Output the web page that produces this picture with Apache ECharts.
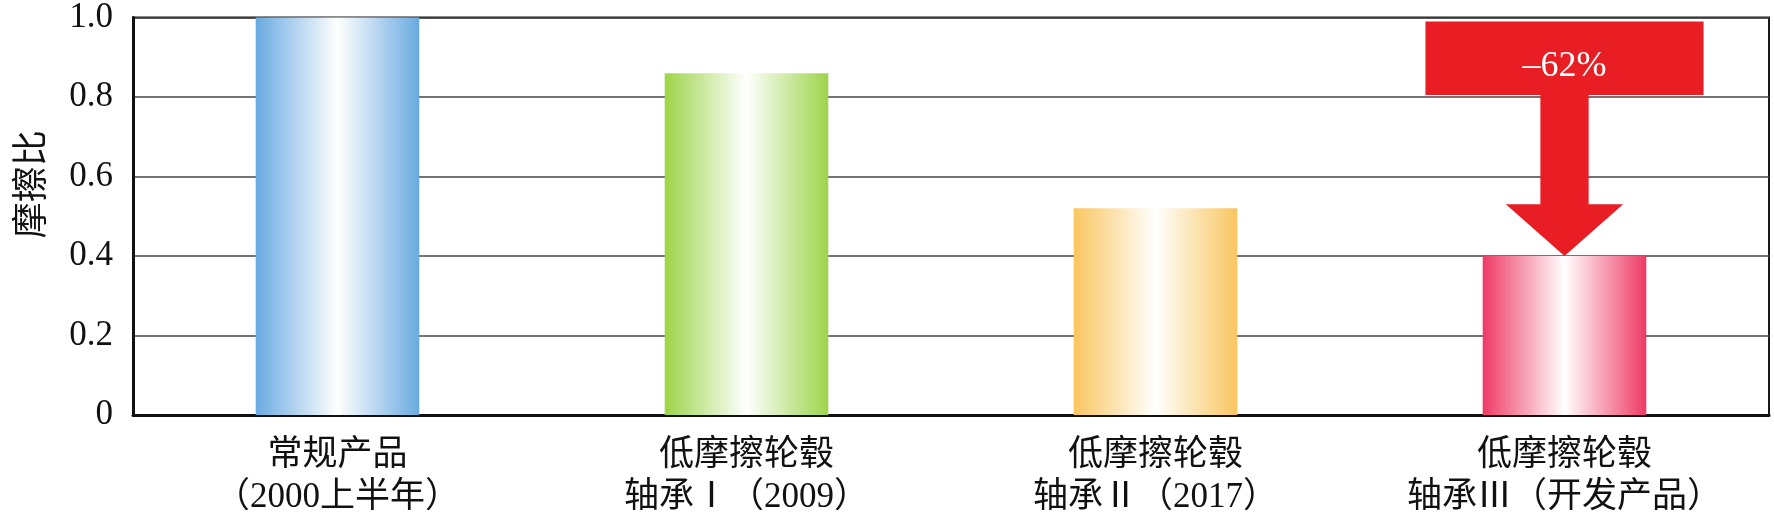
<!DOCTYPE html>
<html>
<head>
<meta charset="utf-8">
<script src="https://cdn.jsdelivr.net/npm/echarts@6/dist/echarts.min.js"></script>
<style>
    html, body { margin: 0; padding: 0; background: #fff; }
    #chart { width: 1774px; height: 529px; }
</style>
</head>
<body>
<div id="chart"></div>
<script>
// products, in the order shown
var categories = [
    '常规产品\n（2000上半年）',
    '低摩擦轮毂\n轴承Ⅰ（2009）',
    '低摩擦轮毂\n轴承Ⅱ（2017）',
    '低摩擦轮毂\n轴承Ⅲ（开发产品）'
];
var frictionRatio = [1.0, 0.86, 0.52, 0.40];
var edgeColors = ['#6aaae1', '#9dd449', '#f9c660', '#ee3a65'];

// reduction arrow over the last bar: [category, box top, box bottom, head base, tip]
var arrowLabel = '–62%';
var arrowData = [[3, 0.99, 0.805, 0.53, 0.40]];

var yTicks = [0, 0.2, 0.4, 0.6, 0.8, 1.0];

var serif = '"Liberation Serif", "Noto Sans CJK SC", serif';
var cjk = '"Noto Sans CJK SC", sans-serif';

var myChart = echarts.init(document.getElementById('chart'));

var barData = frictionRatio.map(function (v, i) {
    return {
        value: v,
        itemStyle: {
            color: new echarts.graphic.LinearGradient(0, 0, 1, 0, [
                {offset: 0, color: edgeColors[i]},
                {offset: 0.5, color: '#ffffff'},
                {offset: 1, color: edgeColors[i]}
            ])
        }
    };
});

function renderArrow(params, api) {
    var cat = api.value(0);
    var pTop = api.coord([cat, api.value(1)]);
    var pBot = api.coord([cat, api.value(2)]);
    var pHead = api.coord([cat, api.value(3)]);
    var pTip = api.coord([cat, api.value(4)]);
    var band = api.size([1, 0])[0];
    var cx = pTop[0];
    var boxW = band * 0.68;
    var shaftW = band * 0.118;
    var headW = band * 0.287;
    var red = '#e91e25';

    return {
        type: 'group',
        children: [
            {
                type: 'rect',
                shape: {x: cx - boxW / 2, y: pTop[1], width: boxW, height: pBot[1] - pTop[1]},
                style: {fill: red}
            },
            {
                type: 'polygon',
                shape: {
                    points: [
                        [cx - shaftW / 2, pBot[1] - 1],
                        [cx + shaftW / 2, pBot[1] - 1],
                        [cx + shaftW / 2, pHead[1]],
                        [cx + headW / 2, pHead[1]],
                        [cx, pTip[1]],
                        [cx - headW / 2, pHead[1]],
                        [cx - shaftW / 2, pHead[1]]
                    ]
                },
                style: {fill: red}
            },
            {
                type: 'text',
                style: {
                    text: arrowLabel,
                    x: cx,
                    y: (pTop[1] + pBot[1]) / 2 + 8,
                    fill: '#ffffff',
                    font: '36px ' + serif,
                    align: 'center',
                    verticalAlign: 'middle'
                }
            }
        ]
    };
}

var option = {
    animation: false,
    backgroundColor: '#ffffff',
    grid: {
        left: 133,
        right: 5,
        top: 16,
        bottom: 114,
        show: true,
        borderColor: '#1a1a1a',
        borderWidth: 2,
        backgroundColor: 'transparent'
    },
    xAxis: {
        type: 'category',
        data: categories,
        axisTick: {show: false},
        axisLine: {lineStyle: {color: '#111', width: 3}},
        axisLabel: {
            color: '#111',
            fontFamily: serif,
            fontSize: 35,
            lineHeight: 42,
            margin: 20,
            interval: 0
        }
    },
    yAxis: {
        type: 'value',
        min: yTicks[0],
        max: yTicks[yTicks.length - 1],
        interval: 0.2,
        name: '摩擦比',
        nameLocation: 'middle',
        nameGap: 86,
        nameTextStyle: {
            color: '#111',
            fontFamily: cjk,
            fontSize: 36,
            padding: [0, 0, 0, 64]
        },
        axisLine: {show: true, lineStyle: {color: '#111', width: 3}},
        axisTick: {show: false},
        axisLabel: {
            color: '#111',
            fontFamily: serif,
            fontSize: 35,
            margin: 20,
            formatter: function (v) {
                return v === 0 ? '0' : v.toFixed(1);
            }
        },
        splitLine: {lineStyle: {color: '#444', width: 1.5}}
    },
    series: [
        {
            name: '摩擦比',
            type: 'bar',
            barWidth: '40%',
            data: barData
        },
        {
            name: 'reduction',
            type: 'custom',
            renderItem: renderArrow,
            data: arrowData,
            z: 5
        }
    ]
};
myChart.setOption(option);
</script>
</body>
</html>
